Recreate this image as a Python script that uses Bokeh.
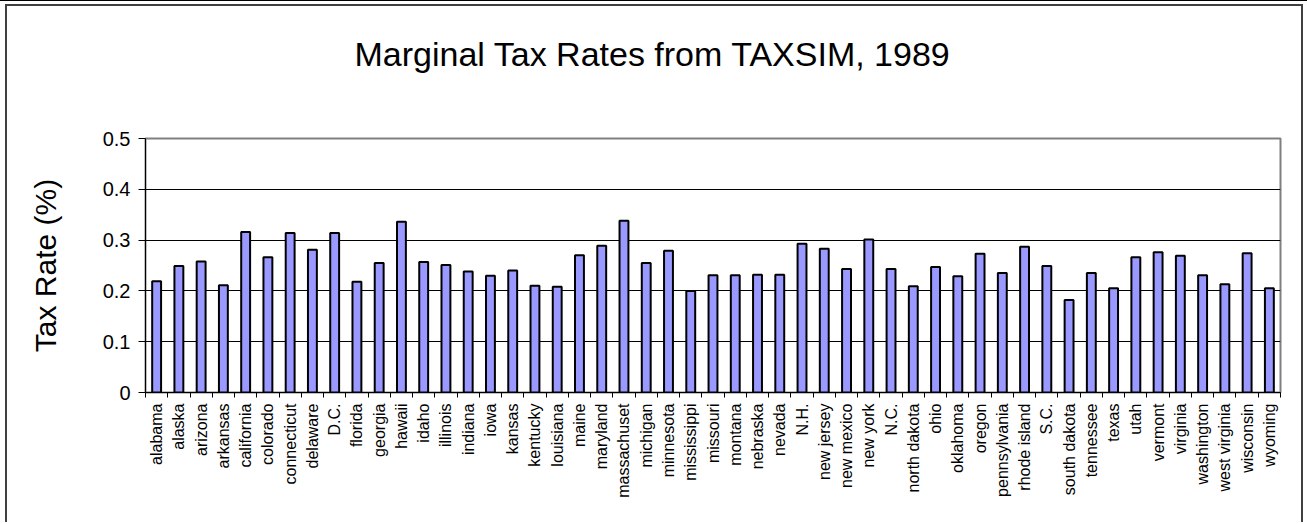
import math
from bokeh.plotting import figure
from bokeh.models import FixedTicker, Range1d
from bokeh.embed import file_html
from bokeh.resources import INLINE

states = ["alabama", "alaska", "arizona", "arkansas", "california", "colorado",
          "connecticut", "delaware", "D.C.", "florida", "georgia", "hawaii",
          "idaho", "illinois", "indiana", "iowa", "kansas", "kentucky",
          "louisiana", "maine", "maryland", "massachuset", "michigan",
          "minnesota", "mississippi", "missouri", "montana", "nebraska",
          "nevada", "N.H.", "new jersey", "new mexico", "new york", "N.C.",
          "north dakota", "ohio", "oklahoma", "oregon", "pennsylvania",
          "rhode island", "S.C.", "south dakota", "tennessee", "texas", "utah",
          "vermont", "virginia", "washington", "west virginia", "wisconsin",
          "wyoming"]

tax_rates = [0.219, 0.249, 0.258, 0.211, 0.316, 0.266,
             0.314, 0.281, 0.314, 0.218, 0.255, 0.336,
             0.257, 0.251, 0.238, 0.230, 0.240, 0.210,
             0.208, 0.270, 0.289, 0.338, 0.255,
             0.279, 0.200, 0.231, 0.231, 0.232,
             0.232, 0.293, 0.283, 0.243, 0.301, 0.243,
             0.209, 0.247, 0.229, 0.273, 0.235,
             0.287, 0.249, 0.182, 0.235, 0.205, 0.266,
             0.276, 0.269, 0.231, 0.213, 0.274,
             0.205]

y_ticks = [0, 0.1, 0.2, 0.3, 0.4, 0.5]
y_tick_labels = ["0", "0.1", "0.2", "0.3", "0.4", "0.5"]

title_text = "Marginal Tax Rates from TAXSIM, 1989"
y_label_text = "Tax Rate (%)"

FONT = "Liberation Sans"

n = len(states)
centers = [i + 0.5 for i in range(n)]        # category slot centres
bounds = list(range(n + 1))                   # category slot boundaries

p = figure(width=1298, height=518, x_range=Range1d(0, n), y_range=Range1d(0, 0.5),
           output_backend="svg", toolbar_location=None,
           min_border_left=138, min_border_right=25,
           min_border_top=132, min_border_bottom=132,
           styles={"margin-left": "5px", "margin-top": "4px",
                   "border-left": "2px solid #404040",
                   "border-right": "2px solid #404040",
                   "border-top": "2px solid #404040",
                   "box-shadow": "0 2px 0 5px white, 0 1px 0 5px black"})
p.background_fill_color = "white"
p.border_fill_color = "white"
p.outline_line_color = "#808080"
p.outline_line_width = 2

p.vbar(x=centers, top=tax_rates, width=0.4, fill_color="#9999FF",
       line_color="black", line_width=2)

# title (a blank second line lifts it higher above the plot area)
p.title.text = title_text + "\n "
p.title.align = "left"
p.title.offset = 209
p.title.standoff = 40
p.title.text_font = FONT
p.title.text_font_size = "34px"
p.title.text_line_height = 1.2
p.title.text_font_style = "normal"
p.title.text_color = "black"

# grid
p.xgrid.visible = False
p.ygrid.ticker = FixedTicker(ticks=y_ticks[1:-1])
p.ygrid.grid_line_color = "black"
p.ygrid.grid_line_width = 1

# y axis
yax = p.yaxis[0]
yax.ticker = FixedTicker(ticks=y_ticks)
yax.major_label_overrides = {t: l for t, l in zip(y_ticks, y_tick_labels)}
yax.major_label_text_font = FONT
yax.major_label_text_font_size = "20px"
yax.major_label_text_color = "black"
yax.major_tick_out = 7
yax.major_tick_in = 0
yax.minor_tick_line_color = None
yax.axis_line_color = "black"
yax.major_tick_line_color = "black"
yax.major_label_standoff = 8
yax.axis_label = y_label_text
yax.axis_label_text_font = FONT
yax.axis_label_text_font_size = "30px"
yax.axis_label_text_font_style = "normal"
yax.axis_label_text_color = "black"
yax.axis_label_standoff = 38

# x axis: names at slot centres, tick marks (minor) at slot boundaries
xax = p.xaxis[0]
xax.ticker = FixedTicker(ticks=centers, minor_ticks=bounds)
xax.major_label_overrides = {c: s for c, s in zip(centers, states)}
xax.major_tick_line_color = None
xax.major_tick_out = 5
xax.major_tick_in = 0
xax.minor_tick_line_color = "black"
xax.minor_tick_out = 5
xax.minor_tick_in = 0
xax.axis_line_color = "black"
xax.major_label_orientation = math.pi / 2
xax.major_label_standoff = 6
xax.major_label_text_font = FONT
xax.major_label_text_font_size = "16px"
xax.major_label_text_color = "black"

open("out.html", "w").write(file_html(p, INLINE))
